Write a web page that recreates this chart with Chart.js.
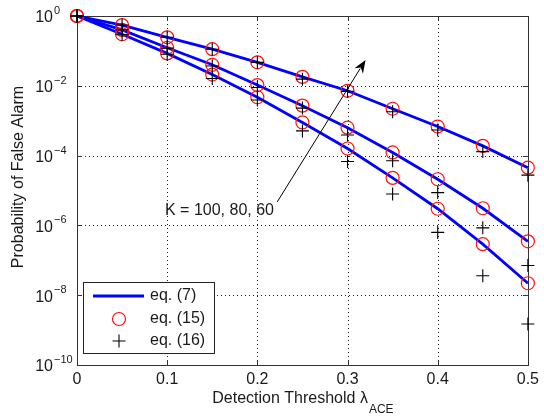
<!DOCTYPE html>
<html>
<head>
<meta charset="utf-8">
<script src="https://cdn.jsdelivr.net/npm/chart.js@4.4.0/dist/chart.umd.min.js"></script>
<style>
  html, body { margin: 0; padding: 0; background: #fff; }
  #wrap { width: 544px; height: 416px; position: relative; }
</style>
</head>
<body>
<div id="wrap"><canvas id="pfaChart"></canvas></div>
<script>
// detection thresholds (x axis)
const thresholds = [0, 0.05, 0.1, 0.15, 0.2, 0.25, 0.3, 0.35, 0.4, 0.45, 0.5];

// eq. (7) / eq. (15) - they lie on top of each other
const exactK60  = [1, 0.55, 0.245, 0.112, 0.047, 0.018, 0.0072, 0.0022, 6.8e-4, 1.9e-4, 4.5e-5];
const exactK80  = [1, 0.40, 0.123, 0.040, 0.0105, 2.7e-3, 6.3e-4, 1.23e-4, 2.1e-5, 3.1e-6, 3.5e-7];
const exactK100 = [1, 0.30, 0.085, 0.021, 4.7e-3, 8.9e-4, 1.6e-4, 2.3e-5, 3.0e-6, 2.9e-7, 2.2e-8];

// eq. (16) approximation
const approxK60  = [1, 0.55, 0.245, 0.112, 0.047, 0.0155, 0.0069, 0.0018, 5.4e-4, 1.3e-4, 2.75e-5];
const approxK80  = [1, 0.40, 0.12, 0.037, 0.0089, 2.3e-3, 3.9e-4, 7.1e-5, 8.7e-6, 8.5e-7, 7.1e-8];
const approxK100 = [1, 0.29, 0.08, 0.0162, 3.9e-3, 5.1e-4, 6.8e-5, 7.9e-6, 6.3e-7, 3.6e-8, 1.5e-9];

const xTicks = [0, 0.1, 0.2, 0.3, 0.4, 0.5];
const yTicks = [1, 1e-2, 1e-4, 1e-6, 1e-8, 1e-10];
const yTickExp = ['0', '-2', '-4', '-6', '-8', '-10'];
const legendLabels = ['eq. (7)', 'eq. (15)', 'eq. (16)'];
const kLabel = 'K = 100, 80, 60';

const FONT = '"Liberation Sans", Arial, Helvetica, sans-serif';
const TXT = '#1a1a1a';

function pts(arr) {
  return arr.map((v, i) => ({ x: thresholds[i], y: v }));
}

function lineSet(arr) {
  return { data: pts(arr), borderColor: '#0000ff', borderWidth: 2.8, pointRadius: 0,
           showLine: true, fill: false, tension: 0, order: 3, clip: false };
}
function circleSet(arr) {
  return { data: pts(arr), showLine: false, pointStyle: 'circle', pointRadius: 6.5,
           pointBorderColor: '#ff1010', pointBackgroundColor: 'rgba(0,0,0,0)',
           pointBorderWidth: 1.2, order: 2, clip: false };
}
function plusSet(arr) {
  return { data: pts(arr), showLine: false, pointStyle: 'cross', pointRadius: 6.5,
           pointBorderColor: '#000', pointBorderWidth: 1.1, order: 1, clip: false };
}

// grid, frame, inward ticks, labels, arrow, legend
const matlabLook = {
  id: 'matlabLook',
  beforeDatasetsDraw(chart) {
    const ctx = chart.ctx;
    const a = chart.chartArea;
    const xs = chart.scales.x, ys = chart.scales.y;
    ctx.save();
    // dotted grid
    ctx.strokeStyle = '#222';
    ctx.lineWidth = 1;
    ctx.setLineDash([1, 3]);
    xTicks.forEach(v => {
      const px = Math.round(xs.getPixelForValue(v)) + 0.5;
      ctx.beginPath(); ctx.moveTo(px, a.top); ctx.lineTo(px, a.bottom); ctx.stroke();
    });
    yTicks.forEach(v => {
      const py = Math.round(ys.getPixelForValue(v)) + 0.5;
      ctx.beginPath(); ctx.moveTo(a.left, py); ctx.lineTo(a.right, py); ctx.stroke();
    });
    ctx.setLineDash([]);
    // frame
    ctx.strokeStyle = '#333';
    ctx.strokeRect(Math.round(a.left) + 0.5, Math.round(a.top) + 0.5,
                   Math.round(a.right - a.left), Math.round(a.bottom - a.top));
    // inward ticks
    xTicks.forEach(v => {
      const px = Math.round(xs.getPixelForValue(v)) + 0.5;
      ctx.beginPath();
      ctx.moveTo(px, a.bottom); ctx.lineTo(px, a.bottom - 5);
      ctx.moveTo(px, a.top); ctx.lineTo(px, a.top + 5);
      ctx.stroke();
    });
    yTicks.forEach(v => {
      const py = Math.round(ys.getPixelForValue(v)) + 0.5;
      ctx.beginPath();
      ctx.moveTo(a.left, py); ctx.lineTo(a.left + 5, py);
      ctx.moveTo(a.right, py); ctx.lineTo(a.right - 5, py);
      ctx.stroke();
    });
    ctx.restore();
  },
  afterDraw(chart) {
    const ctx = chart.ctx;
    const a = chart.chartArea;
    const xs = chart.scales.x, ys = chart.scales.y;
    ctx.save();
    ctx.fillStyle = TXT;

    // y tick labels 10^n
    yTicks.forEach((v, i) => {
      const py = ys.getPixelForValue(v);
      ctx.font = '16px ' + FONT;
      ctx.textAlign = 'right';
      ctx.textBaseline = 'middle';
      ctx.fillText('10', 53, py + 2);
      ctx.font = '11px ' + FONT;
      ctx.textAlign = 'left';
      ctx.textBaseline = 'alphabetic';
      ctx.fillText(yTickExp[i].replace('-', '\u2212'), 54, py - 2);
    });

    // x title with subscript
    const main = 'Detection Threshold \u03bb';
    ctx.font = '16px ' + FONT;
    const wMain = ctx.measureText(main).width;
    ctx.font = '12px ' + FONT;
    const wSub = ctx.measureText('ACE').width;
    const x0 = (a.left + a.right) / 2 - (wMain + wSub) / 2;
    ctx.textAlign = 'left';
    ctx.textBaseline = 'alphabetic';
    ctx.font = '16px ' + FONT;
    ctx.fillText(main, x0, 403);
    ctx.font = '12px ' + FONT;
    ctx.fillText('ACE', x0 + wMain + 1, 413);

    // y title
    ctx.save();
    ctx.translate(19, 177);
    ctx.rotate(-Math.PI / 2);
    ctx.font = '16px ' + FONT;
    ctx.textAlign = 'center';
    ctx.textBaseline = 'middle';
    ctx.fillText('Probability of False Alarm', 0, 0);
    ctx.restore();

    // arrow annotation
    const ax0 = xs.getPixelForValue(0.222), ay0 = ys.getPixelForValue(4.7e-6);
    const ax1 = xs.getPixelForValue(0.32), ay1 = ys.getPixelForValue(0.055);
    const ang = Math.atan2(ay1 - ay0, ax1 - ax0);
    ctx.strokeStyle = '#000';
    ctx.lineWidth = 1;
    ctx.beginPath();
    ctx.moveTo(ax0, ay0);
    ctx.lineTo(ax1 - 10 * Math.cos(ang), ay1 - 10 * Math.sin(ang));
    ctx.stroke();
    ctx.fillStyle = '#000';
    ctx.beginPath();
    ctx.moveTo(ax1, ay1);
    ctx.lineTo(ax1 - 13 * Math.cos(ang) + 5 * Math.sin(ang), ay1 - 13 * Math.sin(ang) - 5 * Math.cos(ang));
    ctx.lineTo(ax1 - 9 * Math.cos(ang), ay1 - 9 * Math.sin(ang));
    ctx.lineTo(ax1 - 13 * Math.cos(ang) - 5 * Math.sin(ang), ay1 - 13 * Math.sin(ang) + 5 * Math.cos(ang));
    ctx.closePath();
    ctx.fill();

    ctx.fillStyle = TXT;
    ctx.font = '16px ' + FONT;
    ctx.textAlign = 'left';
    ctx.textBaseline = 'middle';
    ctx.fillText(kLabel, 165, 211);

    // legend box
    ctx.fillStyle = '#fff';
    ctx.fillRect(83.5, 282.5, 131, 71);
    ctx.strokeStyle = '#222';
    ctx.lineWidth = 1;
    ctx.strokeRect(83.5, 282.5, 131, 71);
    const rows = [296, 319, 341];
    ctx.strokeStyle = '#0000ff';
    ctx.lineWidth = 2.8;
    ctx.beginPath(); ctx.moveTo(93, rows[0]); ctx.lineTo(144, rows[0]); ctx.stroke();
    ctx.strokeStyle = '#ff1010';
    ctx.lineWidth = 1.2;
    ctx.beginPath(); ctx.arc(119, rows[1], 6.5, 0, Math.PI * 2); ctx.stroke();
    ctx.strokeStyle = '#000';
    ctx.lineWidth = 1.1;
    ctx.beginPath();
    ctx.moveTo(112.5, rows[2]); ctx.lineTo(125.5, rows[2]);
    ctx.moveTo(119, rows[2] - 6.5); ctx.lineTo(119, rows[2] + 6.5);
    ctx.stroke();
    ctx.fillStyle = TXT;
    ctx.font = '16px ' + FONT;
    ctx.textAlign = 'left';
    ctx.textBaseline = 'middle';
    legendLabels.forEach((t, i) => ctx.fillText(t, 150, rows[i]));

    ctx.restore();
  }
};

new Chart(document.getElementById('pfaChart'), {
  type: 'scatter',
  data: {
    datasets: [
      lineSet(exactK60), lineSet(exactK80), lineSet(exactK100),
      circleSet(exactK60), circleSet(exactK80), circleSet(exactK100),
      plusSet(approxK60), plusSet(approxK80), plusSet(approxK100)
    ]
  },
  options: {
    responsive: true,
    maintainAspectRatio: false,
    animation: false,
    layout: { padding: { top: 16, right: 12, left: 0, bottom: 0 } },
    plugins: { legend: { display: false }, tooltip: { enabled: false } },
    scales: {
      x: {
        type: 'linear', min: 0, max: 0.5,
        afterBuildTicks: s => { s.ticks = xTicks.map(v => ({ value: v })); },
        afterFit: s => { s.height = 51; },
        grid: { display: false, drawTicks: false },
        border: { display: false },
        ticks: {
          padding: 5,
          color: TXT,
          font: { family: FONT, size: 16 },
          maxRotation: 0,
          callback: v => String(v)
        }
      },
      y: {
        type: 'logarithmic', min: 1e-10, max: 1,
        afterBuildTicks: s => { s.ticks = yTicks.map(v => ({ value: v })); },
        afterFit: s => { s.width = 77; },
        grid: { display: false, drawTicks: false },
        border: { display: false },
        ticks: { display: false }
      }
    }
  },
  plugins: [matlabLook]
});
</script>
</body>
</html>
